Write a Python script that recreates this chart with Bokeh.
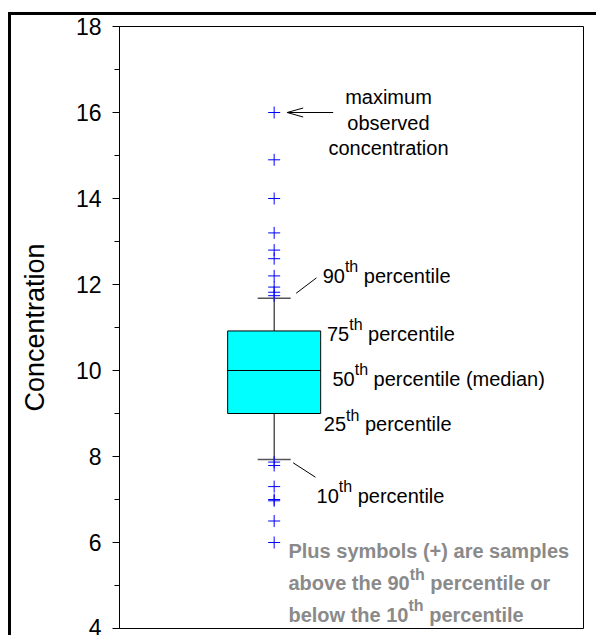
from bokeh.plotting import figure
from bokeh.models import Label, Range1d, SingleIntervalTicker
from bokeh.embed import file_html
from bokeh.resources import INLINE

# ---------------- data ----------------
x_pos = [1]
p10 = [7.93]
q1 = [9.0]
median = [10.0]
q3 = [10.92]
p90 = [11.68]
outliers_high = [16.0, 14.9, 14.0, 13.2, 12.8, 12.6, 12.2, 11.94, 11.82, 11.74]
outliers_low = [7.87, 7.79, 7.3, 7.0, 6.97, 6.5, 6.0]
y_ticks = [4, 6, 8, 10, 12, 14, 16, 18]

# ---------------- layout ----------------
FONT = "Liberation Sans"
MAIN = 20
SUP = 16
RISE = 9
X0, X1 = 0, 3
Y0, Y1 = 4, 18
FRAME_W, FRAME_H = 464, 602
PXX = FRAME_W / (X1 - X0)
PXY = FRAME_H / (Y1 - Y0)


def dx(px):
    return px / PXX


def dy(px):
    return px / PXY


p = figure(width=588, height=623, output_backend="svg", toolbar_location=None,
           x_range=Range1d(X0, X1), y_range=Range1d(Y0, Y1),
           min_border_left=108, min_border_top=11, min_border_right=16, min_border_bottom=10)
# outer picture frame (left and top edges)
p.styles = {"border-left": "3px solid black", "border-top": "3px solid black"}
p.margin = (12, 0, 0, 8)
p.xgrid.visible = False
p.ygrid.visible = False
p.xaxis.visible = False
p.outline_line_color = "black"
p.outline_line_width = 1
p.background_fill_color = "white"
p.border_fill_color = "white"

ax = p.yaxis[0]
ax.ticker = SingleIntervalTicker(interval=2, num_minor_ticks=2)
ax.major_tick_out = 7
ax.major_tick_in = 0
ax.minor_tick_out = 5
ax.minor_tick_in = 0
ax.axis_line_color = "black"
ax.major_tick_line_color = "black"
ax.minor_tick_line_color = "black"
ax.major_label_text_font = FONT
ax.major_label_text_font_size = "23px"
ax.major_label_text_color = "black"
ax.major_label_standoff = 11
ax.axis_label = "Concentration"
ax.axis_label_text_font = FONT
ax.axis_label_text_font_size = "27px"
ax.axis_label_text_font_style = "normal"
ax.axis_label_text_color = "black"
ax.axis_label_standoff = 23

# ---------------- box plot ----------------
xc = x_pos[0]
box_half = dx(46.5)
cap_half = dx(16.5)

p.segment(x0=x_pos, y0=q3, x1=x_pos, y1=p90, line_color="black", line_width=1)
p.segment(x0=x_pos, y0=q1, x1=x_pos, y1=p10, line_color="black", line_width=1)
p.vbar(x=x_pos, width=2 * box_half, top=q3, bottom=q1,
       fill_color="#00ffff", line_color="black", line_width=1)
p.segment(x0=[xc - box_half], y0=median, x1=[xc + box_half], y1=median,
          line_color="black", line_width=1)
p.segment(x0=[xc - cap_half] * 2, y0=[p90[0], p10[0]], x1=[xc + cap_half] * 2,
          y1=[p90[0], p10[0]], line_color="#555555", line_width=1.3)

p.scatter(x=[xc] * len(outliers_high), y=outliers_high, marker="cross", size=12,
          line_color="blue", line_width=1)
p.scatter(x=[xc] * len(outliers_low), y=outliers_low, marker="cross", size=12,
          line_color="blue", line_width=1)

# ---------------- annotations ----------------
W_REG = {" ": 278, "a": 556, "b": 556, "c": 500, "d": 556, "e": 556, "h": 556,
         "i": 222, "l": 222, "m": 833, "n": 556, "o": 556, "p": 556, "r": 333,
         "s": 500, "t": 278, "u": 556, "v": 500, "x": 500, "y": 500, "(": 333,
         ")": 333, "+": 584}
W_BOLD = {" ": 278, "a": 556, "b": 611, "c": 556, "e": 556, "h": 611, "i": 278,
          "l": 278, "m": 889, "n": 611, "o": 611, "p": 611, "r": 389, "s": 556,
          "t": 333, "u": 611, "v": 556, "w": 778, "y": 556, "P": 667, "(": 333,
          ")": 333, "+": 584}


def text_width(s, size, bold):
    table = W_BOLD if bold else W_REG
    return sum(table.get(ch, 556) for ch in s) * size / 1000.0


def rich_label(pieces, x, y, x_off, y_off, color="black", bold=False, align="left"):
    sizes = [SUP if sup else MAIN for _, sup in pieces]
    widths = [text_width(t, s, bold) for (t, _), s in zip(pieces, sizes)]
    total = sum(widths)
    cur = x_off if align == "left" else x_off - total / 2.0
    for (t, sup), s, w in zip(pieces, sizes, widths):
        stripped = t.lstrip(" ")
        lead = text_width(t[:len(t) - len(stripped)], s, bold)
        p.add_layout(Label(x=x, y=y, x_offset=cur + lead,
                           y_offset=y_off + (RISE if sup else 0),
                           text=stripped.rstrip(" "), text_font=FONT,
                           text_font_size=f"{s}px",
                           text_font_style="bold" if bold else "normal",
                           text_color=color, text_align="left",
                           text_baseline="alphabetic"))
        cur += w


vmax = max(outliers_high)
vmin = min(outliers_low)

# maximum annotation
for line, yo in (("maximum", 16), ("observed", -10.7), ("concentration", -35.3)):
    rich_label([(line, False)], xc, vmax, 114.3, yo, align="center")

# arrow to the maximum
tip = xc + dx(13)
p.segment(x0=[xc + dx(59), tip, tip], y0=[vmax, vmax, vmax],
          x1=[tip, tip + dx(16), tip + dx(16)], y1=[vmax, vmax + dy(4.5), vmax - dy(4.5)],
          line_color="black", line_width=1)

# percentile labels
rich_label([("90", False), ("th", True), (" percentile", False)], xc, p90[0], 48.5, 22.7)
rich_label([("75", False), ("th", True), (" percentile", False)], xc, q3[0], 52.8, -2.6)
rich_label([("50", False), ("th", True), (" percentile (median)", False)], xc, median[0], 58.3, -8)
rich_label([("25", False), ("th", True), (" percentile", False)], xc, q1[0], 49.6, -10.7)
rich_label([("10", False), ("th", True), (" percentile", False)], xc, p10[0], 42.4, -36)

# leader lines
p.segment(x0=[xc + dx(22), xc + dx(19)], y0=[p90[0] + dy(5), p10[0] - dy(3.3)],
          x1=[xc + dx(42.3), xc + dx(41.3)], y1=[p90[0] + dy(20.4), p10[0] - dy(17.7)],
          line_color="black", line_width=1)

# note
GRAY = "#8a8a8a"
rich_label([("Plus symbols (+) are samples", False)], xc, vmin, 14.3, -8.7, color=GRAY, bold=True)
rich_label([("above the 90", False), ("th", True), (" percentile or", False)], xc, vmin, 14.3, -40.7,
           color=GRAY, bold=True)
rich_label([("below the 10", False), ("th", True), (" percentile", False)], xc, vmin, 14.3, -72,
           color=GRAY, bold=True)

open("out.html", "w").write(file_html(p, INLINE))
